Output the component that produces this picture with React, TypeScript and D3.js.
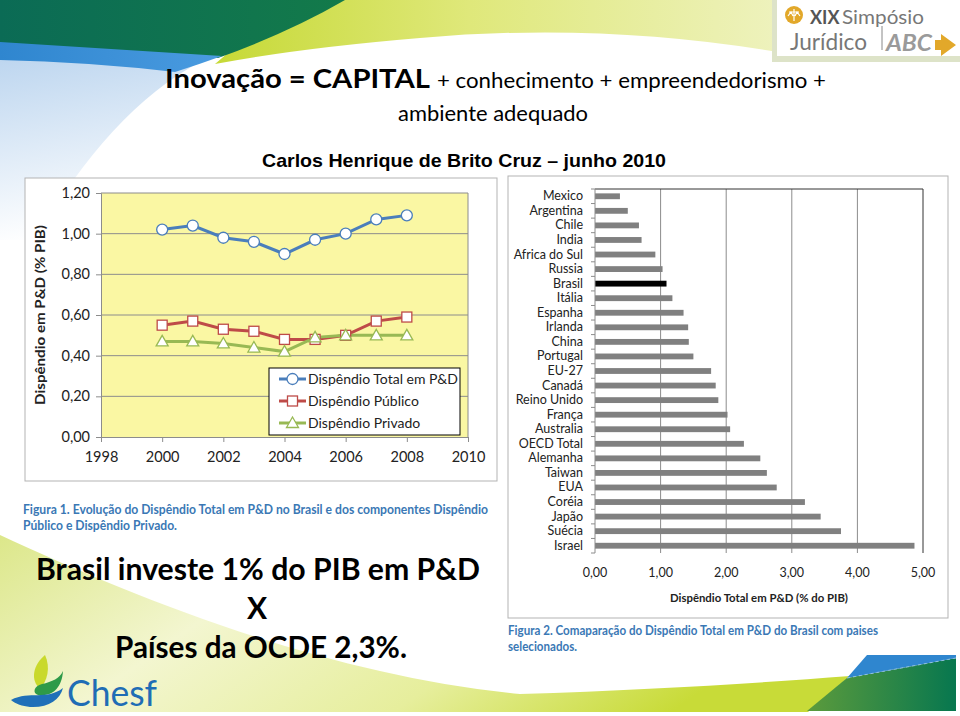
import React, { useEffect, useRef } from 'react';
import * as d3 from 'd3';

// Figura 1 - Brasil
const years = [2000, 2001, 2002, 2003, 2004, 2005, 2006, 2007, 2008];
const totalSpend = [1.02, 1.04, 0.98, 0.96, 0.90, 0.97, 1.00, 1.07, 1.09];
const publicSpend = [0.55, 0.57, 0.53, 0.52, 0.48, 0.48, 0.50, 0.57, 0.59];
const privateSpend = [0.47, 0.47, 0.46, 0.44, 0.42, 0.49, 0.50, 0.50, 0.50];
const yearTicks = [1998, 2000, 2002, 2004, 2006, 2008, 2010];
const shareTicks = [0, 0.2, 0.4, 0.6, 0.8, 1.0, 1.2];
const seriesNames = ['Dispêndio Total em P&D', 'Dispêndio Público', 'Dispêndio Privado'];
const seriesColors = ['#4a7ebb', '#be4b48', '#98b954'];

// Figura 2 - paises
const countries = [
  'Mexico', 'Argentina', 'Chile', 'India', 'Africa do Sul', 'Russia', 'Brasil', 'Itália',
  'Espanha', 'Irlanda', 'China', 'Portugal', 'EU-27', 'Canadá', 'Reino Unido', 'França',
  'Australia', 'OECD Total', 'Alemanha', 'Taiwan', 'EUA', 'Coréia', 'Japão', 'Suécia', 'Israel',
];
const countrySpend = [
  0.38, 0.50, 0.67, 0.71, 0.92, 1.03, 1.09, 1.18,
  1.35, 1.42, 1.43, 1.50, 1.77, 1.84, 1.88, 2.02,
  2.06, 2.27, 2.52, 2.62, 2.77, 3.20, 3.44, 3.75, 4.87,
];
const countryTicks = [0, 1, 2, 3, 4, 5];

const FONT = "Lato, 'Open Sans', sans-serif";
const fmt = (v: number) => v.toFixed(2).replace('.', ',');

const App: React.FC = () => {
  const svgRef = useRef<SVGSVGElement>(null);

  useEffect(() => {
    if (!svgRef.current) { return; }
    const svg = d3.select(svgRef.current);
    svg.selectAll('*').remove();

    const defs = svg.append('defs');
    const grad = (id: string, stops: [string, string][], x2 = '100%', y2 = '0%') => {
      const g = defs.append('linearGradient').attr('id', id)
        .attr('x1', '0%').attr('y1', '0%').attr('x2', x2).attr('y2', y2);
      stops.forEach(([o, c]) => g.append('stop').attr('offset', o).attr('stop-color', c));
    };
    grad('gTopGreen', [['0%', '#0b6b55'], ['100%', '#137a4a']]);
    grad('gTopYellow', [['0%', '#c6d936'], ['45%', '#dfe87a'], ['100%', '#eef2bd']]);
    grad('gTopBlue', [['0%', '#2f86cf'], ['100%', '#4a9be0']]);
    grad('gFade', [['0%', '#9fc3e8'], ['100%', '#ffffff']], '20%', '100%');
    grad('gBotYellow', [['0%', '#dce78a'], ['35%', '#f3f6d0'], ['70%', '#e6ee9c'], ['100%', '#c8db38']], '100%', '30%');
    grad('gBotGreen', [['0%', '#5c9b3c'], ['100%', '#07774f']]);

    // fundo
    svg.append('rect').attr('width', 960).attr('height', 716).attr('fill', '#ffffff');
    svg.append('path').attr('d', 'M0,55 L200,62 Q110,110 35,240 L0,240 Z')
      .attr('fill', 'url(#gFade)').attr('opacity', 0.7);
    svg.append('path').attr('d', 'M290,0 L778,0 L778,52 Q600,22 420,38 Q300,48 215,64 Z')
      .attr('fill', 'url(#gTopYellow)');
    svg.append('path').attr('d', 'M0,0 L345,0 Q290,32 218,58 L0,44 Z')
      .attr('fill', 'url(#gTopGreen)');
    svg.append('path').attr('d', 'M0,42 L222,56 Q200,64 175,72 Q90,62 0,60 Z')
      .attr('fill', 'url(#gTopBlue)');

    svg.append('path').attr('d', 'M0,535 C140,600 330,676 520,694 C650,690 760,683 850,676 L808,712 L0,712 Z')
      .attr('fill', 'url(#gBotYellow)');
    svg.append('path').attr('d', 'M807,711 L847,678 L956,658 L956,711 Z').attr('fill', 'url(#gBotGreen)');
    svg.append('path').attr('d', 'M847,678 L867,655 L956,655 L956,658 Z').attr('fill', '#2f86cf');
    svg.append('line').attr('x1', 847).attr('y1', 678).attr('x2', 956).attr('y2', 658)
      .attr('stroke', '#8fc0e0').attr('stroke-width', 1).attr('stroke-dasharray', '3,3');

    // logo simposio
    svg.append('rect').attr('x', 772).attr('y', 0).attr('width', 188).attr('height', 62).attr('fill', '#dde3c8');
    svg.append('rect').attr('x', 777).attr('y', 0).attr('width', 183).attr('height', 56).attr('fill', '#ffffff');
    svg.append('circle').attr('cx', 794).attr('cy', 15).attr('r', 9).attr('fill', '#e2a82a');
    svg.append('path').attr('d', 'M789,12 L799,12 M794,9 L794,21 M788,16 L791,12 L793,16 M795,16 L797,12 L800,16')
      .attr('stroke', '#fff').attr('stroke-width', 1.2).attr('fill', 'none');
    svg.append('text').attr('x', 810).attr('y', 24).attr('font-family', FONT).attr('font-weight', 700)
      .attr('font-size', 18).attr('fill', '#555').text('XIX');
    svg.append('text').attr('x', 842).attr('y', 24).attr('font-family', FONT)
      .attr('font-size', 19).attr('fill', '#777').attr('textLength', 82)
      .attr('lengthAdjust', 'spacingAndGlyphs').text('Simpósio');
    svg.append('text').attr('x', 790).attr('y', 50).attr('font-family', FONT)
      .attr('font-size', 24).attr('fill', '#777').attr('textLength', 77)
      .attr('lengthAdjust', 'spacingAndGlyphs').text('Jurídico');
    svg.append('line').attr('x1', 882).attr('y1', 26).attr('x2', 882).attr('y2', 50)
      .attr('stroke', '#888').attr('stroke-width', 1);
    svg.append('text').attr('x', 886).attr('y', 51).attr('font-family', FONT).attr('font-weight', 700)
      .attr('font-style', 'italic').attr('font-size', 23).attr('fill', '#9a9a9a')
      .attr('textLength', 46).attr('lengthAdjust', 'spacingAndGlyphs').text('ABC');
    svg.append('path').attr('d', 'M941,34 L956,45 L941,56 L941,50 L935,50 L935,40 L941,40 Z').attr('fill', '#e2a82a');

    // titulo
    const txt = (x: number, y: number, s: string, size: number, opts: any = {}) => {
      const t = svg.append('text').attr('x', x).attr('y', y).attr('font-family', opts.family || FONT)
        .attr('font-size', size).attr('fill', opts.fill || '#000')
        .attr('font-weight', opts.weight || 400).text(s);
      if (opts.len) { t.attr('textLength', opts.len).attr('lengthAdjust', 'spacingAndGlyphs'); }
      if (opts.anchor) { t.attr('text-anchor', opts.anchor); }
      return t;
    };
    txt(165, 88, 'Inovação = CAPITAL', 27, { weight: 700, len: 265 });
    txt(437, 88, '+ conhecimento + empreendedorismo +', 21, { len: 389 });
    txt(398, 121, 'ambiente adequado', 21, { len: 190 });
    txt(262, 167, 'Carlos Henrique de Brito Cruz – junho 2010', 19,
      { weight: 700, len: 404, family: "'Liberation Sans', Arial, sans-serif" });

    // ---------- Figura 1 ----------
    svg.append('rect').attr('x', 25).attr('y', 178).attr('width', 472).attr('height', 303)
      .attr('fill', '#fff').attr('stroke', '#b3b3b3').attr('stroke-width', 1);

    const x1 = d3.scaleLinear().domain([1998, 2010]).range([101, 468]);
    const y1 = d3.scaleLinear().domain([0, 1.2]).range([437, 193]);
    const c1 = svg.append('g');

    c1.append('rect').attr('x', x1(1998)).attr('y', y1(1.2))
      .attr('width', x1(2010) - x1(1998)).attr('height', y1(0) - y1(1.2))
      .attr('fill', '#faf7a3');
    c1.selectAll('.grid1').data(shareTicks.filter(d => d > 0)).enter().append('line')
      .attr('x1', x1(1998)).attr('x2', x1(2010)).attr('y1', d => y1(d)).attr('y2', d => y1(d))
      .attr('stroke', '#8c8c8c').attr('stroke-width', 1);
    c1.append('line').attr('x1', x1(2010)).attr('x2', x1(2010)).attr('y1', y1(1.2)).attr('y2', y1(0))
      .attr('stroke', '#8c8c8c');

    const yAxis1 = d3.axisLeft(y1).tickValues(shareTicks).tickSize(5).tickPadding(6).tickFormat(d => fmt(+d));
    const xAxis1 = d3.axisBottom(x1).tickValues(yearTicks).tickSize(5).tickPadding(10).tickFormat(d3.format('d'));
    const ya = c1.append('g').attr('transform', `translate(${x1(1998)},0)`).call(yAxis1);
    const xa = c1.append('g').attr('transform', `translate(0,${y1(0)})`).call(xAxis1);
    [ya, xa].forEach(a => {
      a.select('.domain').attr('stroke', '#8c8c8c');
      a.selectAll('.tick line').attr('stroke', '#8c8c8c');
      a.selectAll('.tick text').attr('font-family', FONT).attr('font-size', 14.5).attr('fill', '#222');
    });

    c1.append('text').attr('transform', `translate(45,${(y1(0) + y1(1.2)) / 2}) rotate(-90)`)
      .attr('text-anchor', 'middle').attr('font-family', FONT).attr('font-weight', 700)
      .attr('font-size', 13.5).attr('fill', '#222').attr('textLength', 180)
      .attr('lengthAdjust', 'spacingAndGlyphs').text('Dispêndio em P&D (% PIB)');

    const allSeries = [totalSpend, publicSpend, privateSpend];
    const line = d3.line<number>().x((_, i) => x1(years[i])).y(d => y1(d));
    allSeries.forEach((s, k) => {
      c1.append('path').attr('d', line(s) || '').attr('fill', 'none')
        .attr('stroke', seriesColors[k]).attr('stroke-width', 3);
    });
    const marker = (g: any, k: number, cx: number, cy: number) => {
      if (k === 0) {
        g.append('circle').attr('cx', cx).attr('cy', cy).attr('r', 5.5);
      } else if (k === 1) {
        g.append('rect').attr('x', cx - 5).attr('y', cy - 5).attr('width', 10).attr('height', 10);
      } else {
        g.append('path').attr('d', `M${cx},${cy - 6} L${cx + 6},${cy + 4.5} L${cx - 6},${cy + 4.5} Z`);
      }
    };
    allSeries.forEach((s, k) => {
      const mg = c1.append('g').attr('fill', '#fff').attr('stroke', seriesColors[k]).attr('stroke-width', 1.3);
      s.forEach((v, i) => marker(mg, k, x1(years[i]), y1(v)));
    });

    // legenda
    const lg = c1.append('g').attr('transform', 'translate(269,368)');
    lg.append('rect').attr('width', 191).attr('height', 67).attr('fill', '#fff').attr('stroke', '#000');
    seriesNames.forEach((n, k) => {
      const cy = 11 + k * 22;
      lg.append('line').attr('x1', 10).attr('x2', 37).attr('y1', cy).attr('y2', cy)
        .attr('stroke', seriesColors[k]).attr('stroke-width', 3);
      const mg = lg.append('g').attr('fill', '#fff').attr('stroke', seriesColors[k]).attr('stroke-width', 1.3);
      marker(mg, k, 23.5, cy);
      lg.append('text').attr('x', 39).attr('y', cy + 5).attr('font-family', FONT).attr('font-size', 14)
        .attr('fill', '#222').text(n);
    });

    txt(23, 514, 'Figura 1. Evolução do Dispêndio Total em P&D no Brasil e dos componentes Dispêndio', 12.5,
      { weight: 700, fill: '#3a78b5', len: 465 });
    txt(23, 530, 'Público e Dispêndio Privado.', 12.5, { weight: 700, fill: '#3a78b5', len: 154 });

    // ---------- Figura 2 ----------
    svg.append('rect').attr('x', 508).attr('y', 176).attr('width', 440).attr('height', 442)
      .attr('fill', '#fff').attr('stroke', '#b3b3b3').attr('stroke-width', 1);

    const x2 = d3.scaleLinear().domain([0, 5]).range([595, 923]);
    const y2 = d3.scaleBand().domain(countries).range([189, 553]).paddingInner(0.6).paddingOuter(0.3);
    const c2 = svg.append('g');

    c2.selectAll('.grid2').data(countryTicks.slice(1, -1)).enter().append('line')
      .attr('x1', d => x2(d)).attr('x2', d => x2(d)).attr('y1', 189).attr('y2', 553)
      .attr('stroke', '#8c8c8c');
    c2.append('path').attr('d', `M${x2(0)},189 L${x2(5)},189 L${x2(5)},553`)
      .attr('fill', 'none').attr('stroke', '#333');

    c2.selectAll('.bar').data(countries).enter().append('rect')
      .attr('x', x2(0)).attr('y', d => y2(d) || 0)
      .attr('width', (_, i) => x2(countrySpend[i]) - x2(0)).attr('height', y2.bandwidth())
      .attr('fill', d => (d === 'Brasil' ? '#000' : '#808080'));

    const bandEdges = d3.range(countries.length + 1).map(i => 189 + i * (553 - 189) / countries.length);
    c2.append('line').attr('x1', x2(0)).attr('x2', x2(0)).attr('y1', 189).attr('y2', 553).attr('stroke', '#8c8c8c');
    c2.selectAll('.ytick2').data(bandEdges).enter().append('line')
      .attr('x1', x2(0) - 4).attr('x2', x2(0)).attr('y1', d => d).attr('y2', d => d).attr('stroke', '#8c8c8c');
    c2.selectAll('.ylab2').data(countries).enter().append('text')
      .attr('x', 583).attr('y', d => (y2(d) || 0) + y2.bandwidth() / 2 + 4)
      .attr('text-anchor', 'end').attr('font-family', FONT).attr('font-size', 12.5).attr('fill', '#222')
      .text(d => d);

    c2.selectAll('.xlab2').data(countryTicks).enter().append('text')
      .attr('x', d => x2(d)).attr('y', 577).attr('text-anchor', 'middle')
      .attr('font-family', FONT).attr('font-size', 12.5).attr('fill', '#222').text(d => fmt(d));
    txt(759, 602, 'Dispêndio Total em P&D (% do PIB)', 12, { weight: 700, fill: '#222', anchor: 'middle', len: 178 });

    txt(508, 635, 'Figura 2. Comaparação do Dispêndio Total em P&D do Brasil com paises', 12.5,
      { weight: 700, fill: '#3a78b5', len: 370 });
    txt(508, 651, 'selecionados.', 12.5, { weight: 700, fill: '#3a78b5', len: 69 });

    // texto grande
    txt(36, 580, 'Brasil investe 1% do PIB em P&D', 30, { weight: 700, len: 444 });
    txt(257, 619, 'X', 30, { weight: 700, anchor: 'middle' });
    txt(115, 658, 'Países da OCDE 2,3%.', 30, { weight: 700, len: 292 });

    // logo Chesf
    svg.append('path').attr('d', 'M45,655 C33,665 30,680 40,689 C47,681 51,668 45,655 Z').attr('fill', '#c9d92c');
    svg.append('path').attr('d', 'M63,671 C62,688 52,697 38,695 C32,693 34,686 42,684 C52,682 60,678 63,671 Z').attr('fill', '#2e9a48');
    svg.append('path').attr('d', 'M11,700 C30,690 46,701 63,688 C60,700 48,708 30,707 C22,706 16,704 11,700 Z').attr('fill', '#1f70b8');
    txt(67, 706, 'Chesf', 37, { fill: '#1f6db5', len: 90 });
  }, []);

  return (
    <svg ref={svgRef} width={960} height={716}
      style={{ position: 'absolute', left: 0, top: 0, display: 'block' }} />
  );
};

export default App;
